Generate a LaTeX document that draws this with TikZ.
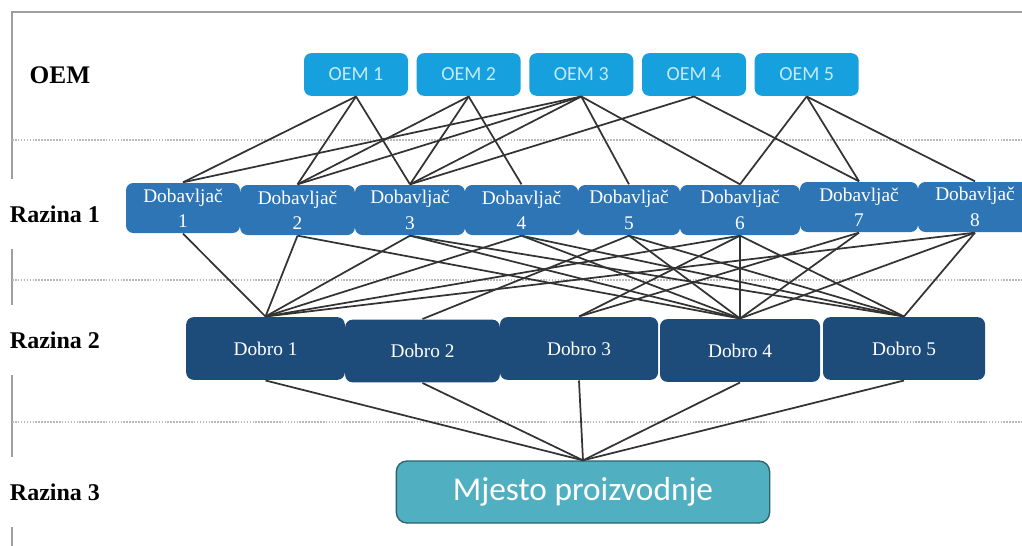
\documentclass[tikz,border=0pt]{standalone}
\usepackage{fontspec}
\setmainfont{Liberation Serif}
\newfontfamily\calibfont{Carlito}
\usetikzlibrary{positioning}
\definecolor{oemblue}{RGB}{22,160,222}
\definecolor{oemtext}{RGB}{195,234,250}
\definecolor{dobblue}{RGB}{46,117,182}
\definecolor{dobrodark}{RGB}{30,76,122}
\definecolor{mjestoteal}{RGB}{80,175,192}
\definecolor{mjestoedge}{RGB}{42,98,110}
\tikzset{every scope/.style={line width=1pt},
  box/.style={rounded corners=5.5pt,inner sep=0pt,text=white},
  oembox/.style={box,fill=oemblue,text=oemtext,minimum width=78pt,minimum height=32pt,font=\calibfont\fontsize{15}{18}\selectfont},
  dobbox/.style={box,fill=dobblue,minimum height=37.5pt,align=center,font=\fontsize{14.5}{19}\selectfont},
  dobrobox/.style={box,fill=dobrodark,minimum height=47pt,font=\fontsize{14.5}{18}\selectfont},
  mjestobox/.style={box,rounded corners=8pt,fill=mjestoteal,draw=mjestoedge,line width=1pt,minimum width=280pt,minimum height=46.5pt,font=\calibfont\fontsize{25}{30}\selectfont},
  razina/.style={font=\bfseries\fontsize{18}{22}\selectfont,fill=white,inner xsep=1pt,minimum height=52pt},
  link/.style={draw=black!80,line width=1.3pt},
  sep/.style={draw=gray!55,densely dotted,line width=1.2pt},
  frame/.style={draw=gray!75,line width=1.3pt}}

\begin{document}
\begin{tikzpicture}[x=0.75pt,y=-0.75pt]
  \useasboundingbox (0,0) rectangle (1022,546);
  \draw[frame] (12,546) -- (12,12) -- (1022,12);
  \draw[sep] (12,140) -- (1022,140);
  \draw[sep] (12,280) -- (1022,280);
  \draw[sep] (12,422) -- (1022,422);

  % level labels
  \node[font=\bfseries\fontsize{19}{24}\selectfont] (lOEM) at (60,75) {OEM};
  \node[razina] (l1) at (55,214) {Razina 1};
  \node[razina] (l2) at (55,340) {Razina 2};
  \node[razina] (l3) at (55,492) {Razina 3};

  % OEM
  \node[oembox] (oem1) at (356,74.5) {OEM 1};
  \node[oembox,right=5.5pt of oem1] (oem2) {OEM 2};
  \node[oembox,right=5.5pt of oem2] (oem3) {OEM 3};
  \node[oembox,right=5.5pt of oem3] (oem4) {OEM 4};
  \node[oembox,right=5.5pt of oem4] (oem5) {OEM 5};

  % razina 1
  \node[dobbox,minimum width=85.5pt] (dob1) at (183,208) {Dobavljač\\1};
  \node[dobbox,minimum width=86pt]   (dob2) at (297.5,210) {Dobavljač\\2};
  \node[dobbox,minimum width=82.5pt] (dob3) at (410,210) {Dobavljač\\3};
  \node[dobbox,minimum width=85pt]   (dob4) at (521.5,210) {Dobavljač\\4};
  \node[dobbox,minimum width=76.5pt] (dob5) at (629,210) {Dobavljač\\5};
  \node[dobbox,minimum width=90pt]   (dob6) at (740,210) {Dobavljač\\6};
  \node[dobbox,minimum width=88.5pt] (dob7) at (859,207) {Dobavljač\\7};
  \node[dobbox,minimum width=85.5pt] (dob8) at (975,207) {Dobavljač\\8};

  % razina 2
  \node[dobrobox,minimum width=119pt]   (dobro1) at (265.5,348.5) {Dobro 1};
  \node[dobrobox,minimum width=116pt]   (dobro2) at (422.5,351) {Dobro 2};
  \node[dobrobox,minimum width=118.5pt] (dobro3) at (579,348.5) {Dobro 3};
  \node[dobrobox,minimum width=120pt]   (dobro4) at (740,350.5) {Dobro 4};
  \node[dobrobox,minimum width=121.5pt] (dobro5) at (904,348.5) {Dobro 5};

  % razina 3
  \node[mjestobox] (mjesto) at (583,492) {Mjesto proizvodnje};

  \foreach \a/\b in {oem1/dob1,oem1/dob2,oem1/dob3,oem2/dob2,oem2/dob3,oem2/dob4,
      oem3/dob1,oem3/dob2,oem3/dob3,oem3/dob5,oem3/dob6,oem4/dob3,oem4/dob7,
      oem5/dob6,oem5/dob7,oem5/dob8}
    \draw[link] (\a.south) -- (\b.north);
  \foreach \a/\b in {dob1/dobro1,dob2/dobro1,dob3/dobro1,dob4/dobro1,dob6/dobro1,dob8/dobro1,
      dob5/dobro2,dob6/dobro3,dob7/dobro3,
      dob2/dobro4,dob3/dobro4,dob4/dobro4,dob5/dobro4,dob6/dobro4,dob7/dobro4,dob8/dobro4,
      dob3/dobro5,dob4/dobro5,dob5/dobro5,dob6/dobro5,dob8/dobro5}
    \draw[link] (\a.south) -- (\b.north);
  \foreach \a in {1,...,5}
    \draw[link] (dobro\a.south) -- (mjesto.north);
\end{tikzpicture}
\end{document}
